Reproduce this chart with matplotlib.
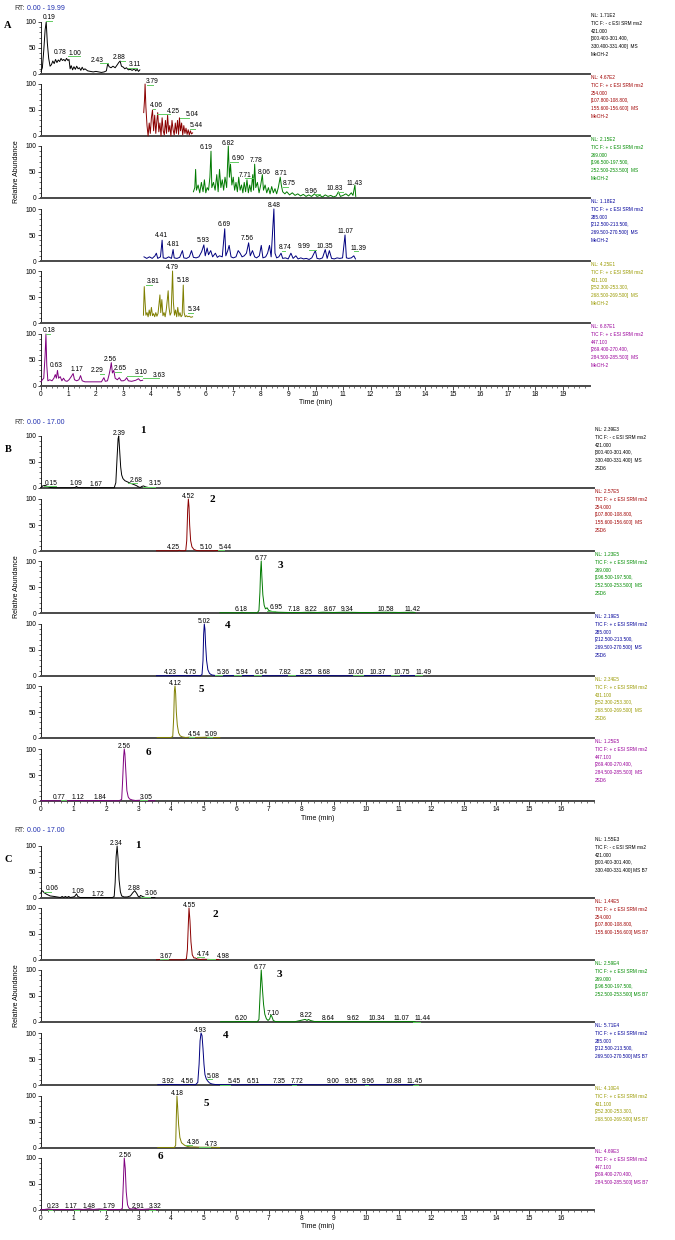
import matplotlib
matplotlib.use("Agg")
import matplotlib.pyplot as plt
from matplotlib.ticker import MultipleLocator, FixedLocator

# ---------------------------------------------------------------- data
# Panel A (MeOH-2), retention time (min) / relative abundance (%)
A1_t = [0.0,0.05,0.10,0.15,0.19,0.23,0.28,0.33,0.38,0.43,0.48,0.53,0.58,0.63,0.68,0.73,0.78,0.83,0.88,0.93,0.98,1.02,1.06,1.10,1.15,1.20,1.25,1.30,1.35,1.40,1.45,1.50,1.55,1.60,1.70,1.80,1.90,2.00,2.10,2.20,2.30,2.38,2.43,2.48,2.55,2.62,2.70,2.78,2.83,2.88,2.93,3.00,3.05,3.11,3.18,3.25,3.32,3.40,3.45,3.50,3.55,3.60]
A1_v = [5,12,45,85,100,60,30,15,18,25,20,28,22,27,24,30,26,28,25,30,26,28,10,16,8,14,9,15,10,12,7,13,8,10,6,5,4,5,4,3,4,6,20,14,12,15,12,18,22,25,15,13,10,12,8,9,7,10,6,9,5,8]
A2_t = [3.74,3.77,3.79,3.82,3.86,3.90,3.94,3.98,4.02,4.06,4.10,4.14,4.18,4.22,4.25,4.29,4.33,4.37,4.41,4.45,4.49,4.53,4.57,4.61,4.65,4.69,4.73,4.77,4.81,4.85,4.89,4.93,4.97,5.01,5.04,5.08,5.12,5.16,5.20,5.24,5.28,5.32,5.36,5.40,5.44,5.48,5.52]
A2_v = [45,70,100,55,20,0,25,5,35,50,10,40,5,30,45,8,25,0,35,10,2,30,5,40,8,20,0,30,12,2,25,5,30,3,35,10,25,2,20,5,15,3,12,2,10,4,6]
A3_t = [5.55,5.60,5.63,5.66,5.72,5.78,5.84,5.90,5.95,6.00,6.05,6.10,6.15,6.19,6.22,6.28,6.34,6.40,6.45,6.50,6.55,6.60,6.65,6.70,6.76,6.82,6.86,6.90,6.95,7.00,7.05,7.10,7.15,7.20,7.25,7.30,7.35,7.40,7.45,7.50,7.55,7.60,7.65,7.71,7.74,7.78,7.82,7.88,7.94,8.00,8.06,8.10,8.16,8.22,8.28,8.34,8.40,8.46,8.52,8.58,8.64,8.71,8.75,8.80,8.88,8.95,9.05,9.15,9.25,9.35,9.45,9.55,9.65,9.75,9.85,9.96,10.05,10.15,10.25,10.35,10.45,10.55,10.65,10.75,10.83,10.90,11.00,11.10,11.20,11.30,11.36,11.43,11.46]
A3_v = [12,20,55,15,25,10,30,12,35,10,20,15,40,90,20,30,15,45,12,55,20,35,15,40,20,100,40,65,25,40,15,30,12,40,15,25,10,30,12,35,10,25,12,45,15,65,20,30,10,25,45,15,25,10,20,8,22,10,18,8,20,40,25,12,8,12,6,10,5,8,4,7,3,6,3,8,3,5,2,6,3,5,2,4,12,3,5,8,4,10,5,25,3]
A4_t = [3.75,3.85,3.95,4.05,4.15,4.20,4.25,4.35,4.41,4.45,4.55,4.65,4.75,4.81,4.85,4.95,5.05,5.15,5.20,5.30,5.40,5.48,5.55,5.65,5.75,5.85,5.93,5.98,6.05,6.10,6.18,6.25,6.35,6.42,6.50,6.60,6.69,6.73,6.80,6.85,6.92,7.00,7.10,7.18,7.25,7.32,7.40,7.48,7.56,7.62,7.70,7.78,7.85,7.95,8.02,8.08,8.18,8.25,8.32,8.38,8.48,8.52,8.58,8.66,8.74,8.80,8.90,9.00,9.10,9.18,9.28,9.36,9.46,9.56,9.66,9.76,9.86,9.99,10.05,10.15,10.25,10.35,10.42,10.50,10.58,10.68,10.78,10.88,10.98,11.07,11.12,11.20,11.30,11.39,11.45]
A4_v = [8,5,8,5,10,15,5,8,40,6,5,8,5,22,6,5,7,20,6,5,8,20,7,6,8,18,31,10,25,12,20,8,15,7,10,8,62,10,20,30,8,6,8,20,15,8,10,15,35,10,20,8,6,10,30,6,8,15,30,8,100,15,6,8,15,5,6,4,15,5,10,4,6,4,5,3,6,20,5,4,6,22,5,20,5,4,6,5,6,50,6,5,6,10,4]
A5_t = [3.73,3.76,3.79,3.82,3.86,3.90,3.94,3.98,4.02,4.06,4.10,4.14,4.18,4.22,4.26,4.30,4.33,4.36,4.40,4.44,4.48,4.52,4.56,4.60,4.63,4.66,4.70,4.74,4.79,4.82,4.86,4.90,4.94,4.98,5.02,5.06,5.10,5.14,5.18,5.21,5.25,5.30,5.34,5.40,5.46,5.52]
A5_v = [15,70,40,15,20,12,25,14,30,14,18,12,20,13,18,38,54,20,45,14,20,12,25,45,62,30,15,20,100,40,15,25,12,30,13,20,12,15,73,20,12,14,12,13,11,12]
A6_t = [0.00,0.05,0.10,0.15,0.18,0.21,0.25,0.32,0.40,0.47,0.52,0.56,0.60,0.64,0.70,0.76,0.82,0.88,0.95,1.02,1.10,1.17,1.22,1.30,1.38,1.44,1.50,1.60,1.80,2.00,2.20,2.29,2.34,2.42,2.48,2.53,2.56,2.60,2.65,2.70,2.78,2.85,2.92,3.00,3.07,3.12,3.18,3.30,3.45,3.55,3.62,3.70]
A6_v = [8,12,15,60,100,40,10,12,10,15,22,15,30,15,18,10,15,10,9,12,18,24,12,10,12,20,10,8,8,8,8,16,9,10,22,35,45,25,30,15,12,16,10,10,12,16,10,9,11,14,10,11]

# Panel B (2SD6)
B1_t = [0.00,0.05,0.12,0.20,0.28,0.40,0.60,0.90,1.05,1.09,1.13,1.30,1.60,1.90,2.10,2.25,2.30,2.34,2.37,2.39,2.42,2.45,2.48,2.52,2.58,2.65,2.72,2.80,2.88,2.95,3.00,3.05,3.10,3.15,3.22,3.30,3.40,3.50]
B1_v = [1,4,5,3,1,0.5,0.5,0.5,1,3,1,0.5,0.5,0.5,0.5,0.5,10,60,95,100,70,40,25,18,14,12,10,8,6,4,2,1,3,4,2,1,0.5,0.5]
B2_t = [3.55,3.80,4.00,4.20,4.25,4.30,4.40,4.45,4.48,4.51,4.53,4.55,4.57,4.60,4.64,4.70,4.78,4.90,5.10,5.30,5.44,5.50]
B2_v = [0.5,0.5,0.5,0.5,1.5,0.5,0.5,1,20,80,100,85,50,20,8,3,1,0.5,0.5,0.5,1,0.5]
B3_t = [5.50,5.80,6.10,6.18,6.25,6.50,6.65,6.70,6.73,6.75,6.77,6.79,6.82,6.86,6.90,6.95,7.00,7.10,7.18,7.30,7.60,8.00,8.22,8.50,8.67,9.00,9.34,9.80,10.20,10.58,11.00,11.42,11.50]
B3_v = [0.5,0.5,0.5,1.5,0.5,0.5,0.5,5,40,80,100,70,35,15,8,10,5,3,2,1.5,1,1,1.5,1,1.5,1,1.5,1,1,1.5,1,1.5,1]
B4_t = [3.55,3.90,4.23,4.50,4.75,4.90,4.95,4.98,5.00,5.02,5.04,5.06,5.09,5.13,5.18,5.25,5.36,5.60,5.94,6.54,7.00,7.82,8.25,8.68,9.20,10.00,10.37,10.75,11.20,11.49,11.50]
B4_v = [0.5,0.5,0.8,0.5,0.8,0.5,3,30,80,100,90,60,30,12,5,2,1,0.5,0.8,0.8,0.5,0.8,0.8,0.8,0.5,0.8,0.8,0.8,0.5,0.8,0.5]
B5_t = [3.57,3.80,4.00,4.05,4.08,4.10,4.12,4.14,4.16,4.19,4.23,4.28,4.35,4.45,4.54,4.70,5.09,5.30,5.50]
B5_v = [1,1,1,3,40,90,100,85,50,25,10,4,2,1,1.5,1,1.5,1,1]
B6_t = [0.00,0.30,0.60,0.77,0.90,1.12,1.40,1.84,2.10,2.40,2.48,2.51,2.54,2.56,2.58,2.61,2.64,2.68,2.72,2.80,2.90,3.05,3.20,3.50]
B6_v = [0.5,0.5,0.5,1.2,0.5,1,0.5,1,0.5,0.5,3,40,85,100,90,55,20,8,4,2,1,1.5,0.5,0.5]

# Panel C (B7)
C1_t = [0.00,0.03,0.06,0.10,0.18,0.28,0.40,0.50,0.60,0.65,0.70,0.75,0.80,0.85,0.90,1.00,1.05,1.09,1.13,1.20,1.40,1.72,2.00,2.20,2.25,2.28,2.31,2.34,2.37,2.40,2.44,2.48,2.55,2.65,2.75,2.82,2.88,2.94,2.99,3.03,3.06,3.12,3.20,3.35,3.50]
C1_v = [10,14,13,10,7,4,3,2,1,3,1,3,1,3,1,2,4,8,3,1,1,1,1,1,3,30,80,100,75,35,12,4,2,2,4,10,14,9,3,2,5,3,1,1,1]
C2_t = [3.55,3.67,3.80,4.10,4.40,4.47,4.50,4.53,4.55,4.58,4.61,4.65,4.70,4.74,4.80,4.90,4.98,5.20,5.47]
C2_v = [0.5,1,0.5,0.5,0.5,2,20,70,100,75,35,10,4,4,2,1,1.5,1,1]
C3_t = [5.52,5.90,6.20,6.50,6.65,6.70,6.74,6.77,6.80,6.84,6.88,6.93,6.98,7.03,7.07,7.10,7.14,7.20,7.40,7.80,8.05,8.12,8.18,8.22,8.28,8.40,8.64,9.00,9.62,10.00,10.34,10.70,11.07,11.44,11.50]
C3_v = [0.5,0.5,1,0.5,0.5,5,60,100,70,35,15,6,3,6,14,10,3,1,0.5,0.5,4,5,3,5,3,1,1,0.5,0.8,0.5,0.8,0.5,0.8,0.8,0.5]
C4_t = [3.59,3.92,4.30,4.56,4.75,4.82,4.86,4.89,4.92,4.95,4.98,5.01,5.04,5.08,5.12,5.18,5.25,5.35,5.45,6.00,6.51,7.35,7.72,8.50,9.00,9.55,9.96,10.88,11.45,11.47]
C4_v = [0.5,1,0.5,1,0.5,5,40,85,100,95,70,40,20,12,8,4,2,1,0.8,0.5,0.8,0.8,0.8,0.5,0.8,0.8,0.8,0.8,0.8,0.5]
C5_t = [3.59,3.90,4.10,4.14,4.16,4.18,4.20,4.23,4.27,4.32,4.36,4.42,4.50,4.60,4.73,4.90,5.20,5.49]
C5_v = [1,1,1,5,60,100,80,45,20,10,8,5,3,2,2,1.5,1.5,1]
C6_t = [0.00,0.10,0.23,0.35,0.60,0.90,1.17,1.30,1.48,1.60,1.79,2.00,2.30,2.45,2.50,2.53,2.56,2.59,2.62,2.66,2.70,2.75,2.85,2.91,2.97,3.10,3.32,3.45,3.60]
C6_v = [1,1,2,1,1,1,1.5,1,2.5,1,2,1,1,1,3,50,100,80,35,10,4,2,2,3,1.5,1,2,1,1]

# Peak labels: (text, time of label centre, abundance of label baseline, leader span or None)
A_labels = [
    [("0.19",0.30,105,(0.18,0.40)),("0.78",0.68,38,None),("1.00",1.22,37,(1.0,1.42)),("2.43",2.05,24,(2.15,2.45)),("2.88",2.84,28,(2.90,3.05)),("3.11",3.42,15,(3.18,3.48))],
    [("3.79",4.03,101,(3.85,4.09)),("4.06",4.19,55,(4.06,4.15)),("4.25",4.82,45,(4.24,4.70)),("5.04",5.52,38,(5.06,5.40)),("5.44",5.67,17,(5.44,5.60))],
    [("6.19",6.00,95,None),("6.82",6.80,102,None),("6.90",7.18,73,(6.90,7.18)),("7.71",7.43,41,(7.43,7.71)),("7.78",7.85,70,None),("8.06",8.13,47,None),("8.71",8.73,44,None),("8.75",9.02,25,(8.80,9.00)),("9.96",9.83,10,(9.96,10.15)),("10.83",10.70,15,(10.83,11.0)),("11.43",11.43,25,None)],
    [("4.41",4.37,46,None),("4.81",4.82,28,None),("5.93",5.91,36,None),("6.69",6.66,67,None),("7.56",7.51,40,None),("8.48",8.48,104,None),("8.74",8.88,23,(8.76,8.90)),("9.99",9.59,25,(9.75,10.0)),("10.35",10.34,25,None),("11.07",11.07,54,None),("11.39",11.55,22,(11.39,11.55))],
    [("3.81",4.09,76,(3.81,4.05)),("4.79",4.77,103,None),("5.18",5.16,79,None),("5.34",5.57,23,(5.34,5.55))],
    [("0.18",0.30,103,(0.18,0.33)),("0.63",0.57,37,None),("1.17",1.32,29,None),("2.29",2.05,27,(2.15,2.29)),("2.56",2.51,49,None),("2.65",2.88,30,(2.70,2.90)),("3.10",3.66,23,(3.13,3.66)),("3.63",4.31,18,(3.70,4.31))],
]
B_labels = [
    [("0.15",0.30,6,(0.10,0.45)),("1.09",1.07,5,None),("1.67",1.68,4,None),("2.39",2.39,102,None),("2.68",2.92,12,(2.68,2.95)),("3.15",3.50,5,(3.15,3.50))],
    [("4.25",4.06,4,None),("4.52",4.53,102,None),("5.10",5.09,4,None),("5.44",5.66,4,(5.44,5.62))],
    [("6.18",6.16,4,None),("6.77",6.78,102,None),("6.95",7.22,7,(6.95,7.20)),("7.18",7.77,4,None),("8.22",8.31,4,None),("8.67",8.88,4,None),("9.34",9.41,4,None),("10.58",10.59,4,None),("11.42",11.42,4,None)],
    [("4.23",3.99,4,None),("4.75",4.60,4,None),("5.02",5.01,102,None),("5.36",5.60,4,(5.36,5.55)),("5.94",6.19,4,(5.94,6.15)),("6.54",6.78,4,(6.54,6.75)),("7.82",7.49,4,(7.60,7.82)),("8.25",8.14,4,None),("8.68",8.70,4,None),("10.00",9.69,4,(9.60,9.90)),("10.37",10.36,4,None),("10.75",11.08,4,(10.75,11.00)),("11.49",11.76,4,(11.49,11.70))],
    [("4.12",4.13,102,None),("4.54",4.73,4,(4.54,4.70)),("5.09",5.24,4,(5.09,5.25))],
    [("0.77",0.56,4,(0.60,0.77)),("1.12",1.12,4,None),("1.84",1.81,4,None),("2.56",2.55,102,None),("3.05",3.25,4,(3.05,3.25))],
]
C_labels = [
    [("0.06",0.34,15,(0.10,0.30)),("1.09",1.12,10,None),("1.72",1.75,4,None),("2.34",2.31,102,None),("2.88",2.86,16,None),("3.06",3.39,5,(3.06,3.35))],
    [("3.67",3.85,4,(3.67,3.90)),("4.55",4.57,102,None),("4.74",5.00,8,(4.80,5.00)),("4.98",5.60,4,(5.10,5.35))],
    [("6.20",6.15,3,None),("6.77",6.74,102,None),("7.10",7.14,13,None),("8.22",8.16,9,None),("8.64",8.84,3,None),("9.62",9.59,3,None),("10.34",10.33,3,None),("11.07",11.08,3,None),("11.44",11.73,3,(11.44,11.65))],
    [("3.92",3.92,3,None),("4.56",4.51,3,None),("4.93",4.91,102,None),("5.08",5.28,14,(5.10,5.25)),("5.45",5.95,3,(5.50,5.80)),("6.51",6.52,3,None),("7.35",7.33,3,None),("7.72",7.86,3,(7.72,7.85)),("9.00",8.97,3,None),("9.55",9.54,3,None),("9.96",10.05,3,(9.96,10.05)),("10.88",10.85,3,None),("11.45",11.47,3,(11.45,11.60))],
    [("4.18",4.18,102,None),("4.36",4.68,8,(4.45,4.65)),("4.73",5.23,4,(4.85,5.20))],
    [("0.23",0.37,3,(0.23,0.35)),("1.17",0.92,3,(1.0,1.17)),("1.48",1.48,3,None),("1.79",2.08,3,(1.79,2.0)),("2.56",2.58,102,None),("2.91",3.00,3,None),("3.32",3.52,3,(3.32,3.5))],
]
# compound numbers (B, C): (time, abundance)
B_num_pos = [(3.14,111),(5.26,99),(7.37,92),(5.73,98),(4.93,94),(3.30,94)]
C_num_pos = [(2.99,101),(5.36,88),(7.33,91),(5.69,95),(5.07,86),(3.68,102)]
compound_numbers = ["1","2","3","4","5","6"]

# header info
A_NL = ["1.71E2","4.67E2","2.15E2","1.18E2","4.25E1","6.87E1"]
B_NL = ["2.39E3","2.57E5","1.23E5","2.19E5","2.34E5","1.25E5"]
C_NL = ["1.55E3","1.44E5","2.59E4","5.71E4","4.10E4","4.69E3"]
polarity = ["-","+","+","+","+","+"]
precursor = ["421.000","254.000","269.000","285.000","431.100","447.100"]
range1 = ["[300.400-301.400,","[107.800-108.800,","[196.500-197.500,","[212.500-213.500,","[252.300-253.300,","[269.400-270.400,"]
range2 = ["330.400-331.400]","155.600-156.600]","252.500-253.500]","269.500-270.500]","268.500-269.500]","284.500-285.500]"]

# ---------------------------------------------------------------- style
W, H, DPI = 675, 1240, 100
trace_colors = ['#000000', '#8B0000', '#007A00', '#00007F', '#7F7F00', '#7F007F']
text_colors = ['#000000', '#A00000', '#008C00', '#00009A', '#9A9A00', '#9A009A']
leader_color = '#62CC62'
SANS = 'Liberation Sans'
SERIF = 'Liberation Serif'

fig = plt.figure(figsize=(W / DPI, H / DPI), dpi=DPI)
fig.patch.set_facecolor('white')


def fx(px):
    return px / W


def fy(py):
    return 1 - py / H


panels = [
    dict(letter="A", rt="0.00 - 19.99", xmax=19.99, right=590, sample="MeOH-2",
         base=[74, 136, 198, 261, 323, 386], rt_y=8, letter_y=25,
         traces=[(A1_t, A1_v), (A2_t, A2_v), (A3_t, A3_v), (A4_t, A4_v), (A5_t, A5_v), (A6_t, A6_v)],
         labels=A_labels, nl=A_NL, nums=None, last_labels=list(range(0, 20))),
    dict(letter="B", rt="0.00 - 17.00", xmax=17.0, right=594, sample="2SD6",
         base=[488, 551, 613, 676, 738, 801], rt_y=422, letter_y=449,
         traces=[(B1_t, B1_v), (B2_t, B2_v), (B3_t, B3_v), (B4_t, B4_v), (B5_t, B5_v), (B6_t, B6_v)],
         labels=B_labels, nl=B_NL, nums=B_num_pos, last_labels=list(range(0, 17))),
    dict(letter="C", rt="0.00 - 17.00", xmax=17.0, right=594, sample="B7",
         base=[898, 960, 1022, 1085, 1148, 1210], rt_y=831, letter_y=859,
         traces=[(C1_t, C1_v), (C2_t, C2_v), (C3_t, C3_v), (C4_t, C4_v), (C5_t, C5_v), (C6_t, C6_v)],
         labels=C_labels, nl=C_NL, nums=C_num_pos, last_labels=list(range(0, 17))),
]

LEFT = 41
AXH = 52

for p in panels:
    right = p["right"]
    for i in range(6):
        b = p["base"][i]
        ax = fig.add_axes([fx(LEFT), fy(b), (right - LEFT) / W, AXH / H])
        ax.set_xlim(0, p["xmax"])
        ax.set_ylim(0, 100)
        ax.patch.set_alpha(0)
        for s in ("top", "right"):
            ax.spines[s].set_visible(False)
        ax.spines["bottom"].set_color('#4a4a4a')
        ax.spines["bottom"].set_linewidth(1.4)
        ax.spines["left"].set_linewidth(0.6)
        ax.spines["left"].set_bounds(0, 100)
        ax.yaxis.set_major_locator(FixedLocator([0, 50, 100]))
        ax.yaxis.set_minor_locator(MultipleLocator(10))
        ax.tick_params(axis='y', which='major', length=2.5, width=0.5, labelsize=4.8, pad=0.8)
        ax.tick_params(axis='y', which='minor', length=1.4, width=0.4)
        for lab in ax.get_yticklabels():
            lab.set_family(SANS)
        if i == 5:
            ax.xaxis.set_major_locator(FixedLocator(p["last_labels"]))
            ax.xaxis.set_minor_locator(MultipleLocator(0.2))
            ax.tick_params(axis='x', which='major', length=3, width=0.5, labelsize=4.8, pad=0.8)
            ax.tick_params(axis='x', which='minor', length=1.6, width=0.4)
            for lab in ax.get_xticklabels():
                lab.set_family(SANS)
            fig.text(fx((LEFT + right) / 2), fy(b + 17), "Time (min)", fontsize=5,
                     family=SANS, ha='center', va='center')
        else:
            ax.tick_params(axis='x', which='both', bottom=False, labelbottom=False)

        t, v = p["traces"][i]
        ax.plot(t, v, color=trace_colors[i], lw=0.7, zorder=3, clip_on=False)

        for txt, tc, vb, lead in p["labels"][i]:
            ax.text(tc, vb, txt, fontsize=4.8, family=SANS, ha='center', va='baseline',
                    color='black', clip_on=False, zorder=4)
            if lead is not None:
                ax.plot([lead[0], lead[1]], [vb - 3, vb - 3], color=leader_color,
                        lw=0.7, clip_on=False, zorder=3.5)

        if p["nums"] is not None:
            nt, nv = p["nums"][i]
            ax.text(nt, nv, compound_numbers[i], fontsize=8, family=SERIF, weight='bold',
                    ha='center', va='center', clip_on=False)

        # instrument header on the right
        top_ref = p["base"][i - 1] if i > 0 else p["base"][0] - 62
        if p["sample"] == "B7":
            lines = ["NL: " + p["nl"][i],
                     "TIC F: " + polarity[i] + " c ESI SRM ms2",
                     precursor[i], range1[i],
                     range2[i] + " MS B7"]
        else:
            lines = ["NL: " + p["nl"][i],
                     "TIC F: " + polarity[i] + " c ESI SRM ms2",
                     precursor[i], range1[i],
                     range2[i] + "  MS", p["sample"]]
        for k, ln in enumerate(lines):
            fig.text(fx(right + 1), fy(top_ref + 3.5 + 7.8 * k), ln, fontsize=3.4,
                     family=SANS, color=text_colors[i], ha='left', va='center')

    # panel decorations
    fig.text(fx(14), fy(p["rt_y"]), "RT:", fontsize=5, family=SANS, color='#333333',
             ha='left', va='center')
    fig.text(fx(27), fy(p["rt_y"]), p["rt"], fontsize=5, family=SANS, color='#2030B0',
             ha='left', va='center')
    fig.text(fx(8), fy(p["letter_y"]), p["letter"], fontsize=7.5, family=SERIF,
             weight='bold', ha='center', va='center')
    mid3 = p["base"][2] - AXH / 2
    fig.text(fx(17), fy(mid3), "Relative Abundance", fontsize=5, family=SANS,
             rotation=90, ha='center', va='center')

fig.savefig("out.png", dpi=DPI, facecolor='white')
